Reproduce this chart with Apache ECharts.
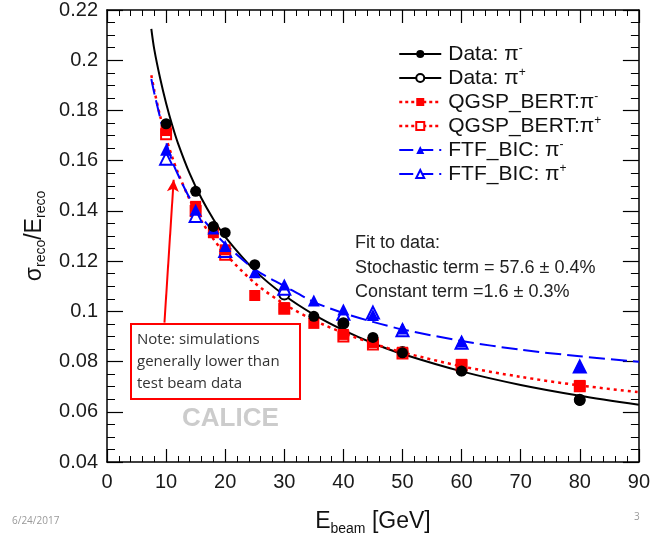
<!DOCTYPE html>
<html>
<head>
<meta charset="utf-8">
<script src="https://cdn.jsdelivr.net/npm/echarts@6/dist/echarts.min.js"></script>
<style>
  html, body { margin: 0; padding: 0; background: #fff; }
  #chart { width: 653px; height: 541px; }
</style>
</head>
<body>
<div id="chart"></div>
<script>
const fitEnergy = [7.5, 8, 9, 10, 11, 12, 14, 16, 18, 20, 25, 30, 35, 40, 45, 50, 60, 70, 80, 90];
const fitData   = [0.2125, 0.2043, 0.1927, 0.1829, 0.1744, 0.1670, 0.1548, 0.1449, 0.1367, 0.1297, 0.1163, 0.1064, 0.0987, 0.0925, 0.0873, 0.0830, 0.0761, 0.0707, 0.0664, 0.0628];
const fitQGSP   = [0.1940, 0.1880, 0.1777, 0.1691, 0.1617, 0.1552, 0.1445, 0.1359, 0.1288, 0.1229, 0.1113, 0.1029, 0.0965, 0.0914, 0.0872, 0.0837, 0.0781, 0.0739, 0.0705, 0.0678];
const fitFTF    = [0.1925, 0.1869, 0.1770, 0.1675, 0.1600, 0.1545, 0.1450, 0.1375, 0.1318, 0.1268, 0.1167, 0.1101, 0.1037, 0.0993, 0.0958, 0.0928, 0.0882, 0.0847, 0.0821, 0.0799];

// measured / simulated points [E, sigma/E]
const dataPiMinus = [[10, 0.1747], [15, 0.1478], [18, 0.1338], [20, 0.1313], [25, 0.1186], [35, 0.0980], [40, 0.0955], [45, 0.0896], [50, 0.0835], [60, 0.0762], [80, 0.0645]];
const dataPiPlus  = [[30, 0.1067], [40, 0.0952], [50, 0.0838], [60, 0.0765], [80, 0.0648]];
const qgspPiMinus = [[10, 0.1720], [15, 0.1418], [18, 0.1313], [20, 0.1245], [25, 0.1063], [30, 0.1015], [35, 0.0952], [40, 0.0908], [45, 0.0876], [50, 0.0837], [60, 0.0789], [80, 0.0705]];
const qgspPiPlus  = [[10, 0.1705], [15, 0.1400], [20, 0.1225], [30, 0.1010], [40, 0.0900], [45, 0.0868], [50, 0.0832], [60, 0.0785], [80, 0.0702]];
const ftfPiMinus  = [[10, 0.1643], [15, 0.1405], [18, 0.1330], [20, 0.1260], [25, 0.1156], [30, 0.1107], [35, 0.1043], [40, 0.1007], [45, 0.0985], [50, 0.0932], [60, 0.0880], [80, 0.0782]];
const ftfPiPlus   = [[10, 0.1608], [15, 0.1380], [20, 0.1240], [30, 0.1090], [40, 0.0990], [45, 0.0995], [50, 0.0925], [60, 0.0875], [80, 0.0780]];

const seriesNames = ['Data: π-', 'Data: π+', 'QGSP_BERT:π-', 'QGSP_BERT:π+', 'FTF_BIC: π-', 'FTF_BIC: π+'];

const toPairs = vals => fitEnergy.map((e, i) => [e, vals[i]]);

const FONT = 'Liberation Sans, Arial, sans-serif';
const RED = '#ff0000', BLUE = '#0000ff', BLACK = '#000000';

function xAx(pos) {
  return {
    type: 'value', position: pos, min: 0, max: 90, interval: 10,
    axisLine: { show: true, onZero: false, lineStyle: { color: '#000', width: 1.5 } },
    axisTick: { show: true, inside: true, length: 13, lineStyle: { color: '#000', width: 1.2 } },
    minorTick: { show: true, splitNumber: 5, length: 6, lineStyle: { color: '#000', width: 1 } },
    splitLine: { show: false },
    axisLabel: { show: pos === 'bottom', fontFamily: FONT, fontSize: 20, color: '#1a1a1a', margin: 10 },
    name: pos === 'bottom' ? 'E{sub|beam} [GeV]' : '',
    nameLocation: 'middle', nameGap: 46,
    nameTextStyle: {
      fontFamily: FONT, fontSize: 23, color: '#111', lineHeight: 28,
      rich: { sub: { fontFamily: FONT, fontSize: 14, verticalAlign: 'bottom', lineHeight: 14 } }
    }
  };
}
function yAx(pos) {
  return {
    type: 'value', position: pos, min: 0.04, max: 0.22, interval: 0.02,
    axisLine: { show: true, onZero: false, lineStyle: { color: '#000', width: 1.5 } },
    axisTick: { show: true, inside: true, length: 16, lineStyle: { color: '#000', width: 1.2 } },
    minorTick: { show: true, splitNumber: 4, length: 8, lineStyle: { color: '#000', width: 1 } },
    splitLine: { show: false },
    axisLabel: { show: pos === 'left', fontFamily: FONT, fontSize: 20, color: '#1a1a1a', margin: 9 },
    name: pos === 'left' ? 'σ{sub|reco}/E{sub|reco}' : '',
    nameLocation: 'middle', nameGap: 50,
    nameTextStyle: {
      fontFamily: FONT, fontSize: 23, color: '#111', lineHeight: 28,
      rich: { sub: { fontFamily: FONT, fontSize: 14, verticalAlign: 'bottom', lineHeight: 14 } }
    }
  };
}

function pointSeries(name, data, symbol, color, size, z) {
  const empty = symbol.indexOf('empty') === 0;
  return {
    name: name, type: 'line', data: data, z: z,
    symbol: symbol, symbolSize: size, showSymbol: true,
    lineStyle: { opacity: 0 },
    itemStyle: { color: color, borderColor: color, borderWidth: empty ? 1.5 : 0 },
    emphasis: { disabled: true },
    animation: false
  };
}
function fitSeries(vals, color, type, width) {
  return {
    name: 'fit', type: 'line', data: toPairs(vals), smooth: 0.3, showSymbol: false, z: 2,
    lineStyle: { color: color, type: type, width: width },
    emphasis: { disabled: true }, animation: false
  };
}

const legendLine = [
  { type: 'solid', color: BLACK, width: 2 },
  { type: 'solid', color: BLACK, width: 2 },
  { type: [3, 3], color: RED, width: 2.5 },
  { type: [3, 3], color: RED, width: 2.5 },
  { type: [14, 6], color: BLUE, width: 2 },
  { type: [14, 6], color: BLUE, width: 2 }
];

const chart = echarts.init(document.getElementById('chart'), null, { renderer: 'canvas' });

const qgspMinus = pointSeries(seriesNames[2], qgspPiMinus, 'rect', RED, 11, 5);
qgspMinus.markLine = {
  silent: true, symbol: ['none', 'arrow'], symbolSize: [9, 12],
  label: { show: false },
  lineStyle: { color: RED, width: 2, type: 'solid' },
  data: [[{ coord: [9.72, 0.0955] }, { coord: [11.28, 0.1524] }]]
};

chart.setOption({
  animation: false,
  grid: { left: 107, right: 9, top: 10, bottom: 78 },
  xAxis: [xAx('bottom'), xAx('top')],
  yAxis: [yAx('left'), yAx('right')],
  legend: {
    orient: 'vertical', left: 393, top: 38, itemWidth: 42, itemHeight: 10, itemGap: 2,
    data: seriesNames.map((n, i) => ({ name: n, lineStyle: Object.assign({ opacity: 1 }, legendLine[i]) })),
    formatter: name => name.replace(/π([+-])$/, (m, s) => 'π{sup|' + s + '}'),
    textStyle: {
      fontFamily: FONT, fontSize: 21, color: '#111', lineHeight: 22, padding: [0, 0, 0, 2],
      rich: { sup: { fontFamily: FONT, fontSize: 12, verticalAlign: 'top', lineHeight: 12 } }
    },
    selectedMode: false
  },
  series: [
    fitSeries(fitData, BLACK, 'solid', 2),
    fitSeries(fitQGSP, RED, [3, 4], 2.5),
    fitSeries(fitFTF, BLUE, [16, 6], 2),
    pointSeries(seriesNames[1], dataPiPlus, 'emptyCircle', BLACK, 10, 3),
    pointSeries(seriesNames[3], qgspPiPlus, 'emptyRect', RED, 10, 3),
    pointSeries(seriesNames[5], ftfPiPlus, 'emptyTriangle', BLUE, 12, 4),
    pointSeries(seriesNames[0], dataPiMinus, 'circle', BLACK, 11, 6),
    qgspMinus,
    pointSeries(seriesNames[4], ftfPiMinus, 'triangle', BLUE, 12, 5)
  ],
  graphic: [
    {
      type: 'text', left: 355, top: 231, z: 10,
      style: {
        text: 'Fit to data:\nStochastic term = 57.6 ± 0.4%\nConstant term =1.6 ± 0.3%',
        font: '18px ' + FONT, fill: '#222', lineHeight: 24.5
      }
    },
    {
      type: 'rect', z: 10,
      shape: { x: 131, y: 324, width: 169, height: 75 },
      style: { fill: '#fff', stroke: RED, lineWidth: 2 }
    },
    {
      type: 'text', left: 137, top: 329, z: 11,
      style: {
        text: 'Note: simulations\ngenerally lower than\ntest beam data',
        font: '15px "Open Sans", sans-serif', fill: '#333', lineHeight: 22
      }
    },
    {
      type: 'text', left: 182, top: 406, z: 10,
      style: { text: 'CALICE', font: 'bold 26px ' + FONT, fill: '#cccccc' }
    },
    {
      type: 'text', left: 12, top: 516, z: 10,
      style: { text: '6/24/2017', font: '10px "Open Sans", sans-serif', fill: '#999' }
    },
    {
      type: 'text', left: 634, top: 512, z: 10,
      style: { text: '3', font: '10px "Open Sans", sans-serif', fill: '#999' }
    }
  ]
});
</script>
</body>
</html>
